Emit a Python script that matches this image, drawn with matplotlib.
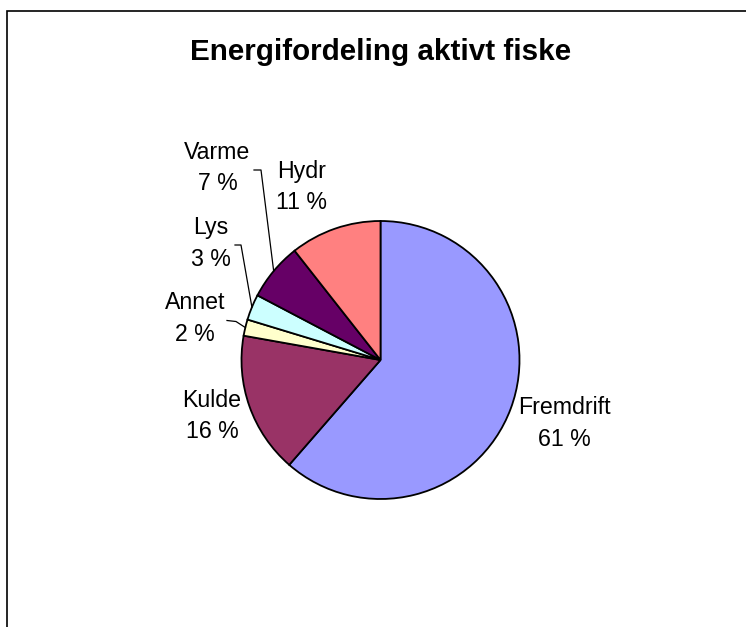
import numpy as np
import matplotlib.pyplot as plt
from matplotlib.patches import Rectangle

plt.rcParams['font.family'] = ['Liberation Sans', 'DejaVu Sans']

# data (clockwise from 12 o'clock)
names = ['Fremdrift', 'Kulde', 'Annet', 'Lys', 'Varme', 'Hydr']
shares = [61.4, 16.4, 1.9, 3.0, 6.7, 10.6]
colors = ['#9999FF', '#993366', '#FFFFCC', '#CCFFFF', '#660066', '#FF8080']

# layout, in pixels from the top-left corner
W, H = 746, 627
cx, cy, r = 380.5, 360, 139
label_xy = [(564, 423.5), (212, 416), (195, 318.5), (211, 243.5), (217.5, 167.7), (302, 186.7)]
# leader lines: elbow points per slice index
leaders = {2: [(227, 320.5), (236, 321.5)],
           3: [(235, 245), (241, 245)],
           4: [(254, 170), (261, 170)]}

fig = plt.figure(figsize=(W / 100, H / 100), dpi=100)
ax = fig.add_axes([0, 0, 1, 1])

wedges, _ = ax.pie(shares, colors=colors, startangle=90, counterclock=False,
                   center=(cx, H - cy), radius=r,
                   wedgeprops=dict(edgecolor='black', linewidth=1.3))
ax.set_xlim(0, W)
ax.set_ylim(0, H)
ax.set_aspect('auto')
ax.axis('off')

# outer frame (cut off at right and bottom)
ax.add_patch(Rectangle((6.5, -20), W + 20, H - 10.7 + 20, fill=False,
                       edgecolor='black', linewidth=1.2, clip_on=False))

ax.text(381, H - 60, 'Energifordeling aktivt fiske', ha='center', va='baseline',
        fontsize=21.3, fontweight='bold')

for i, (name, v) in enumerate(zip(names, shares)):
    lx, ly = label_xy[i]
    ax.text(lx, H - ly, f'{name}\n{round(v)} %', ha='center', va='center',
            fontsize=16.7, linespacing=1.45)

# leader lines to slice midpoints
cum = np.cumsum([0] + shares)
for i, pts in leaders.items():
    mid = (cum[i] + cum[i + 1]) / 2 / 100 * 2 * np.pi
    ex = cx - r * np.sin(mid) * -1
    ey = cy - r * np.cos(mid)
    xs = [p[0] for p in pts] + [ex]
    ys = [H - p[1] for p in pts] + [H - ey]
    ax.plot(xs, ys, color='black', linewidth=0.9)

fig.savefig('out.png', dpi=100)
